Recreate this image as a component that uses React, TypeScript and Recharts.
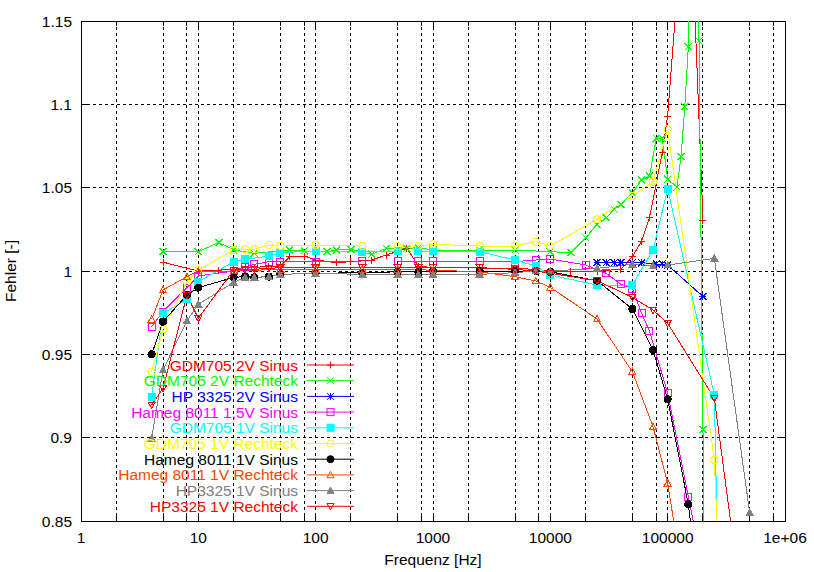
import React from "react";
import { CartesianGrid, Line, LineChart, ReferenceArea, XAxis, YAxis } from "recharts";

const FONT = '"Liberation Sans", Arial, sans-serif';
const FS = 15.5;

// plot area (px) inside the 814x572 chart
const PL = 81;
const PR = 785;
const PT = 21;
const PB = 521;

// frequencies [Hz] and measured error ratio per series
const gdm2vSinF = [5, 10, 15, 20, 25, 30, 40, 50, 60, 80, 100, 150, 200, 300, 400, 600, 750, 1000, 2500, 5000, 7500, 10000, 15000, 25000, 40000, 50000, 60000, 70000, 90000, 100000, 150000, 200000];
const gdm2vSinV = [1.0052, 1.0, 1.0006, 1.001, 1.002, 1.002, 1.003, 1.003, 1.0086, 1.009, 1.0066, 1.005, 1.0056, 1.0066, 1.0096, 1.0136, 1.003, 1.002, 1.0018, 1.0015, 1.001, 1.0, 0.9995, 1.0, 1.001, 1.0086, 1.018, 1.032, 1.071, 1.093, 1.254, 1.0306];

const gdm2vRectF = [5, 10, 15, 20, 30, 60, 80, 125, 150, 200, 300, 400, 600, 750, 1000, 2500, 5000, 10000, 15000, 20000, 25000, 30000, 35000, 40000, 50000, 60000, 70000, 80000, 90000, 100000, 120000, 130000, 140000, 150000, 170000, 185000, 200000, 210000];
const gdm2vRectV = [1.0116, 1.0116, 1.0172, 1.0126, 1.0106, 1.0126, 1.012, 1.0116, 1.0126, 1.013, 1.01, 1.0136, 1.0136, 1.014, 1.0126, 1.0126, 1.0126, 1.0116, 1.011, 1.02, 1.028, 1.032, 1.037, 1.04, 1.047, 1.0546, 1.057, 1.0796, 1.0796, 1.055, 1.0504, 1.0686, 1.0986, 1.1346, 1.6, 1.138, 0.905, 0.6];

const hp2vSinF = [25000, 30000, 35000, 40000, 50000, 60000, 80000, 90000, 100000, 200000];
const hp2vSinV = [1.005, 1.005, 1.005, 1.005, 1.005, 1.005, 1.0042, 1.0042, 1.0036, 0.9846];

const hameg15vSinF = [4, 5, 8, 10, 20, 25, 30, 40, 50, 100, 250, 500, 750, 1000, 2500, 5000, 7500, 10000, 20000, 30000, 40000, 50000, 60000, 70000, 100000, 150000, 200000];
const hameg15vSinV = [0.9666, 0.9756, 0.99, 0.997, 1.0, 1.0026, 1.004, 1.0056, 1.0056, 1.0056, 1.006, 1.006, 1.006, 1.006, 1.006, 1.0056, 1.0066, 1.0072, 1.0036, 0.9986, 0.992, 0.9894, 0.9746, 0.964, 0.9266, 0.8646, 0.82];

const gdm1vSinF = [4, 5, 8, 10, 20, 25, 40, 50, 100, 250, 500, 750, 1000, 2500, 5000, 7500, 10000, 25000, 50000, 75000, 100000, 250000, 300000];
const gdm1vSinV = [0.9246, 0.9746, 0.983, 0.9936, 1.0056, 1.007, 1.009, 1.011, 1.012, 1.0116, 1.012, 1.012, 1.012, 1.0116, 1.0066, 1.003, 0.9976, 0.9916, 0.9916, 1.0126, 1.0492, 0.9256, 0.655];

const gdm1vRectF = [4, 5, 8, 10, 20, 25, 30, 40, 50, 100, 250, 500, 750, 1000, 2500, 5000, 7500, 10000, 25000, 50000, 75000, 100000, 250000, 300000];
const gdm1vRectV = [0.9396, 0.965, 0.9936, 1.0006, 1.0126, 1.013, 1.013, 1.0156, 1.015, 1.0156, 1.015, 1.015, 1.015, 1.016, 1.015, 1.015, 1.0176, 1.015, 1.031, 1.045, 1.0536, 1.085, 0.8866, 0.755];

const hameg1vSinF = [4, 5, 8, 10, 20, 25, 30, 40, 50, 100, 250, 500, 750, 1000, 2500, 5000, 7500, 10000, 25000, 50000, 75000, 100000, 150000, 200000];
const hameg1vSinV = [0.95, 0.9696, 0.9856, 0.99, 0.9962, 0.9966, 0.9962, 0.9966, 0.998, 0.9986, 0.999, 0.9995, 0.9995, 1.0, 1.0, 1.0, 1.0, 0.9995, 0.9942, 0.9772, 0.9526, 0.923, 0.86, 0.79];

const hameg1vRectF = [4, 5, 8, 10, 20, 50, 100, 250, 500, 1000, 2500, 5000, 7500, 10000, 25000, 50000, 75000, 100000, 150000];
const hameg1vRectV = [0.971, 0.9886, 0.9966, 1.0, 1.0, 1.001, 1.001, 1.001, 1.001, 1.0005, 0.9995, 0.9966, 0.994, 0.9902, 0.9712, 0.9396, 0.9066, 0.8726, 0.795];

const hp1vSinF = [4, 5, 8, 10, 20, 25, 30, 40, 50, 100, 250, 500, 750, 1000, 2500, 5000, 7500, 10000, 25000, 50000, 75000, 100000, 250000, 500000];
const hp1vSinV = [0.8996, 0.9406, 0.9702, 0.98, 0.9932, 0.9962, 0.9962, 0.9966, 0.998, 0.9986, 0.998, 0.998, 0.998, 0.998, 0.998, 0.999, 1.0, 1.0, 1.0016, 1.004, 1.003, 1.0036, 1.0076, 0.855];

const hp1vRectF = [4, 5, 8, 10, 20, 25, 30, 40, 50, 100, 250, 500, 750, 1000, 2500, 5000, 7500, 10000, 25000, 50000, 75000, 100000, 250000, 500000];
const hp1vRectV = [0.9196, 0.9296, 0.9856, 0.9716, 1.0006, 1.001, 1.001, 1.0016, 1.002, 1.002, 1.002, 1.002, 1.002, 1.002, 1.002, 1.001, 1.0, 0.9986, 0.9942, 0.9842, 0.9766, 0.9686, 0.9236, 0.763];

const xTicks = [1, 2, 5, 8, 10, 20, 50, 80, 100, 200, 500, 800, 1000, 2000, 5000, 8000, 10000, 20000, 50000, 80000, 100000, 200000, 500000, 800000, 1000000];
const xTickLabels: Record<number, string> = { 1: "1", 10: "10", 100: "100", 1000: "1000", 10000: "10000", 100000: "100000", 1000000: "1e+06" };
const yTicks = [0.85, 0.9, 0.95, 1, 1.05, 1.1, 1.15];
const yTickLabels = ["0.85", "0.9", "0.95", "1", "1.05", "1.1", "1.15"];

type MarkerKind = "plus" | "cross" | "star" | "square" | "squareFill" | "circle" | "circleFill" | "tri" | "triFill" | "triDown";

const zip = (f: number[], v: number[]) => f.map((x, i) => ({ f: x, v: v[i] }));

const series: { name: string; color: string; marker: MarkerKind; data: { f: number; v: number }[] }[] = [
  { name: "GDM705 2V Sinus", color: "#ff0000", marker: "plus", data: zip(gdm2vSinF, gdm2vSinV) },
  { name: "GDM705 2V Rechteck", color: "#00ff00", marker: "cross", data: zip(gdm2vRectF, gdm2vRectV) },
  { name: "HP 3325 2V Sinus", color: "#0000ff", marker: "star", data: zip(hp2vSinF, hp2vSinV) },
  { name: "Hameg 8011 1,5V Sinus", color: "#ff00ff", marker: "square", data: zip(hameg15vSinF, hameg15vSinV) },
  { name: "GDM705 1V Sinus", color: "#00ffff", marker: "squareFill", data: zip(gdm1vSinF, gdm1vSinV) },
  { name: "GDM705 1V Rechteck", color: "#ffff00", marker: "circle", data: zip(gdm1vRectF, gdm1vRectV) },
  { name: "Hameg 8011 1V Sinus", color: "#000000", marker: "circleFill", data: zip(hameg1vSinF, hameg1vSinV) },
  { name: "Hameg 8011 1V Rechteck", color: "#ff4500", marker: "tri", data: zip(hameg1vRectF, hameg1vRectV) },
  { name: "HP3325 1V Sinus", color: "#808080", marker: "triFill", data: zip(hp1vSinF, hp1vSinV) },
  { name: "HP3325 1V Rechteck", color: "#ff0000", marker: "triDown", data: zip(hp1vRectF, hp1vRectV) },
];

function Marker({ kind, cx, cy, color }: { kind: MarkerKind; cx: number; cy: number; color: string }) {
  const s = 3.5;
  switch (kind) {
    case "plus":
      return <path d={`M${cx - s},${cy}H${cx + s}M${cx},${cy - s}V${cy + s}`} stroke={color} fill="none" />;
    case "cross":
      return <path d={`M${cx - s},${cy - s}L${cx + s},${cy + s}M${cx - s},${cy + s}L${cx + s},${cy - s}`} stroke={color} fill="none" />;
    case "star":
      return (
        <path
          d={`M${cx - s},${cy}H${cx + s}M${cx},${cy - s}V${cy + s}M${cx - s},${cy - s}L${cx + s},${cy + s}M${cx - s},${cy + s}L${cx + s},${cy - s}`}
          stroke={color}
          fill="none"
        />
      );
    case "square":
      return <rect x={cx - s} y={cy - s} width={2 * s} height={2 * s} stroke={color} fill="none" />;
    case "squareFill":
      return <rect x={cx - s} y={cy - s} width={2 * s} height={2 * s} stroke={color} fill={color} />;
    case "circle":
      return <circle cx={cx} cy={cy} r={s} stroke={color} fill="none" />;
    case "circleFill":
      return <circle cx={cx} cy={cy} r={s} stroke={color} fill={color} />;
    case "tri":
      return <path d={`M${cx},${cy - s}L${cx + s},${cy + s * 0.8}L${cx - s},${cy + s * 0.8}Z`} stroke={color} fill="none" />;
    case "triFill":
      return <path d={`M${cx},${cy - s}L${cx + s},${cy + s * 0.8}L${cx - s},${cy + s * 0.8}Z`} stroke={color} fill={color} />;
    case "triDown":
      return <path d={`M${cx},${cy + s}L${cx + s},${cy - s * 0.8}L${cx - s},${cy - s * 0.8}Z`} stroke={color} fill="none" />;
  }
}

function XTick(props: any) {
  const { x, payload } = props;
  const label = xTickLabels[payload.value];
  const len = label ? 8 : 5;
  return (
    <g>
      <line x1={x} x2={x} y1={PB} y2={PB - len} stroke="#000" />
      <line x1={x} x2={x} y1={PT} y2={PT + len} stroke="#000" />
      {label && (
        <text x={x} y={PB + 22} textAnchor="middle" fontFamily={FONT} fontSize={FS} fill="#000">
          {label}
        </text>
      )}
    </g>
  );
}

function YTick(props: any) {
  const { y, index } = props;
  return (
    <g>
      <line x1={PL} x2={PL + 8} y1={y} y2={y} stroke="#000" />
      <line x1={PR} x2={PR - 8} y1={y} y2={y} stroke="#000" />
      <text x={72} y={y + 5.5} textAnchor="end" fontFamily={FONT} fontSize={FS} fill="#000">
        {yTickLabels[index]}
      </text>
    </g>
  );
}

function Legend() {
  return (
    <svg width={814} height={572} style={{ position: "absolute", left: 0, top: 0, pointerEvents: "none" }}>
      {series.map((s, i) => {
        const y = 365 + i * 15.7;
        return (
          <g key={s.name}>
            <text x={298} y={y + 5.5} textAnchor="end" fontFamily={FONT} fontSize={FS} fill={s.color}>
              {s.name}
            </text>
            <line x1={307} x2={354} y1={y} y2={y} stroke={s.color} />
            <Marker kind={s.marker} cx={330.5} cy={y} color={s.color} />
          </g>
        );
      })}
      <text x={433} y={565} textAnchor="middle" fontFamily={FONT} fontSize={FS} fill="#000">
        Frequenz [Hz]
      </text>
      <text x={16} y={271} textAnchor="middle" fontFamily={FONT} fontSize={FS} fill="#000" transform="rotate(-90 16 271)">
        Fehler [-]
      </text>
    </svg>
  );
}

export default function App() {
  return (
    <div style={{ position: "absolute", left: 0, top: 0, width: 814, height: 572, background: "#fff" }}>
      <LineChart width={814} height={572} margin={{ top: PT, right: 814 - PR, bottom: 0, left: 0 }} style={{ shapeRendering: "crispEdges" }}>
        <CartesianGrid stroke="#000" strokeDasharray="3 3" />
        <XAxis
          dataKey="f"
          type="number"
          scale="log"
          domain={[1, 1000000]}
          ticks={xTicks}
          interval={0}
          allowDataOverflow
          axisLine={false}
          tickLine={false}
          tick={(p: any) => <XTick {...p} />}
          height={572 - PB}
        />
        <YAxis
          type="number"
          domain={[0.85, 1.15]}
          ticks={yTicks}
          interval={0}
          allowDataOverflow
          axisLine={false}
          tickLine={false}
          tick={(p: any) => <YTick {...p} />}
          width={PL}
        />
        <ReferenceArea x1={1} x2={1000000} y1={0.85} y2={1.15} fill="none" stroke="#000" strokeOpacity={1} />
        {series.map((s) => (
          <Line
            key={s.name}
            data={s.data}
            dataKey="v"
            type="linear"
            stroke={s.color}
            strokeWidth={1}
            isAnimationActive={false}
            activeDot={false}
            dot={(p: any) => <Marker key={`${s.name}-${p.index}`} kind={s.marker} cx={p.cx} cy={p.cy} color={s.color} />}
          />
        ))}
      </LineChart>
      <Legend />
    </div>
  );
}
